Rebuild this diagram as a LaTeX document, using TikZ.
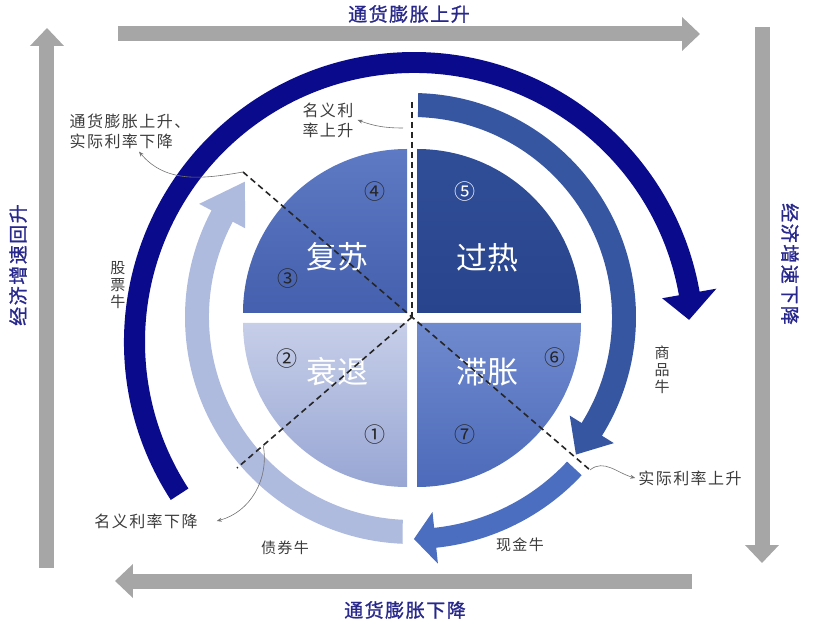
\documentclass[tikz,border=0pt]{standalone}
\usepackage{fontspec}
\setmainfont{Noto Sans CJK SC}
\newfontfamily\axisfont[FakeBold=1.2,LetterSpace=8]{Noto Sans CJK SC}
\newfontfamily\notefont[LetterSpace=9]{Noto Sans CJK SC}
\usetikzlibrary{arrows.meta,positioning,calc}
\definecolor{cyclenavy}{RGB}{10,10,140}
\definecolor{steelarc}{RGB}{54,86,162}
\definecolor{casharc}{RGB}{76,110,192}
\definecolor{bondarc}{RGB}{174,186,222}
\definecolor{axisgray}{RGB}{166,166,166}
\definecolor{axisblue}{RGB}{40,40,140}
\definecolor{notegray}{RGB}{60,60,60}
\definecolor{recovA}{RGB}{94,122,196}
\definecolor{recovB}{RGB}{68,96,174}
\definecolor{heatA}{RGB}{48,78,152}
\definecolor{heatB}{RGB}{40,68,140}
\definecolor{recesA}{RGB}{198,206,232}
\definecolor{recesB}{RGB}{152,166,212}
\definecolor{stagA}{RGB}{112,138,206}
\definecolor{stagB}{RGB}{76,106,186}

\begin{document}
\begin{tikzpicture}[x=1pt,y=1pt,
  phase/.style={text=white,font=\fontsize{31}{31}\selectfont,inner sep=0pt},
  stage/.style={text=black!85,font=\fontsize{21}{21}\selectfont,inner sep=0pt},
  note/.style={text=notegray,font=\notefont\fontsize{16}{20}\selectfont,align=left,inner sep=1pt},
  bull/.style={text=notegray,font=\notefont\fontsize{15}{17}\selectfont,align=center,inner sep=1pt},
  axis/.style={draw=axisgray,line width=15pt,-{Triangle[length=18pt,width=33pt]}},
  axislbl/.style={text=axisblue,font=\axisfont\fontsize{19}{19}\selectfont,inner sep=0pt},
  divider/.style={draw=black!85,line width=1.6pt,dash pattern=on 6pt off 4pt},
  pointer/.style={draw=black!55,line width=0.6pt,-{Stealth[length=5pt,width=4pt]}}
]
  \useasboundingbox (-412,-311) rectangle (401,317);

  % Four phases of the clock
  \path[top color=heatA,bottom color=heatB]
    (5,4) -- (169,4) arc[start angle=0,end angle=90,radius=164] -- cycle;
  \path[top color=recovA,bottom color=recovB]
    (-5,4) -- (-5,168) arc[start angle=90,end angle=180,radius=164] -- cycle;
  \path[top color=recesA,bottom color=recesB]
    (-5,-6) -- (-169,-6) arc[start angle=180,end angle=270,radius=164] -- cycle;
  \path[top color=stagA,bottom color=stagB]
    (5,-6) -- (5,-170) arc[start angle=270,end angle=360,radius=164] -- cycle;

  \node[phase] (recov) at (-75,60)  {复苏};
  \node[phase] (heat)  at (75,59)   {过热};
  \node[phase] (reces) at (-75,-55) {衰退};
  \node[phase] (stagf) at (75,-55)  {滞胀};

  \node[stage] (s1) at (-37,-118) {①};
  \node[stage] (s2) at (-125,-42) {②};
  \node[stage] (s3) at (-124,38)  {③};
  \node[stage] (s4) at (-37,125)  {④};
  \node[stage,text=white] (s5) at (53,125) {⑤};
  \node[stage] (s6) at (143,-41)  {⑥};
  \node[stage] (s7) at (53,-118)  {⑦};

  % Outer arc, centre a little below the pie
  \begin{scope}[shift={(2,-25)}]
    \fill[cyclenavy] (213:290) arc[start angle=213,end angle=10,radius=290]
      -- (10:307) -- (4.6:276) -- (10:252) -- (10:269)
      arc[start angle=10,end angle=213,radius=269] -- cycle;
  \end{scope}

  % Inner arcs
  \fill[steelarc] (88.4:224) arc[start angle=88.4,end angle=-32,radius=224]
    -- (-32:238) -- (-40:214) -- (-32:186) -- (-32:200)
    arc[start angle=-32,end angle=88.3,radius=200] -- cycle;
  \fill[casharc] (-43:232) arc[start angle=-43,end angle=-84,radius=232]
    -- (-84:248) -- (-89.5:222) -- (-84:196) -- (-84:212)
    arc[start angle=-84,end angle=-43,radius=212] -- cycle;
  \fill[bondarc] (267.6:227) arc[start angle=267.6,end angle=152,radius=227]
    -- (152:241) -- (141:215) -- (152:189) -- (152:203)
    arc[start angle=152,end angle=267.4,radius=203] -- cycle;

  % Dashed dividers
  \coordinate (ctr) at (0,0);
  \coordinate (vtop) at (0,215);
  \coordinate (dtl) at (-169,145);
  \coordinate (dbr) at (178,-153);
  \coordinate (dbl) at (-175,-151);
  \draw[divider] (vtop) -- (ctr);
  \draw[divider] (dtl) -- (dbr);
  \draw[divider] (ctr) -- (dbl);

  % Asset labels
  \node[bull] (stock)  at (-294,32)   {股\\票\\牛};
  \node[bull] (commod) at (250,-53)   {商\\品\\牛};
  \node[bull] (bond)   at (-127,-231) {债券牛};
  \node[bull] (cash)   at (108,-228)  {现金牛};

  % Rate notes
  \node[note] (nomup)   at (-84,197)   {名义利\\率上升};
  \node[note] (infl)    at (-282,186)  {通货膨胀上升、\\实际利率下降};
  \node[note] (nomdown) at (-266,-204) {名义利率下降};
  \node[note] (realup)  at (278,-161)  {实际利率上升};

  \coordinate (nuStart) at (-9,189);
  \coordinate (ndStart) at ($(ctr)!0.85!(dbl)$);
  \draw[pointer] (nuStart) to[out=180,in=-20] ([xshift=3pt]nomup.east);
  \draw[pointer] (dtl) to[out=190,in=-50] ([xshift=9pt,yshift=-2pt]infl.south);
  \draw[pointer] (ndStart) to[out=-80,in=15] ([xshift=18pt]nomdown.east);
  \draw[pointer] (dbr) to[out=40,in=165] ([xshift=-2pt]realup.west);

  % Grey axes round the clock
  \coordinate (topL) at (-294,283);  \coordinate (topR) at (288,283);
  \coordinate (botR) at (280,-264);  \coordinate (botL) at (-297,-264);
  \coordinate (rgtT) at (350,290);   \coordinate (rgtB) at (350,-246);
  \coordinate (lftB) at (-365,-251); \coordinate (lftT) at (-365,289);
  \draw[axis] (topL) -- (topR);
  \draw[axis] (botR) -- (botL);
  \draw[axis] (rgtT) -- (rgtB);
  \draw[axis] (lftB) -- (lftT);

  \node[axislbl] (inflUp)   at (-3,303)   {通货膨胀上升};
  \node[axislbl] (inflDown) at (-7,-293)  {通货膨胀下降};
  \node[axislbl,rotate=-90] (growDown) at (378,53)  {经济增速下降};
  \node[axislbl,rotate=90]  (growUp)   at (-394,52) {经济增速回升};
\end{tikzpicture}
\end{document}
